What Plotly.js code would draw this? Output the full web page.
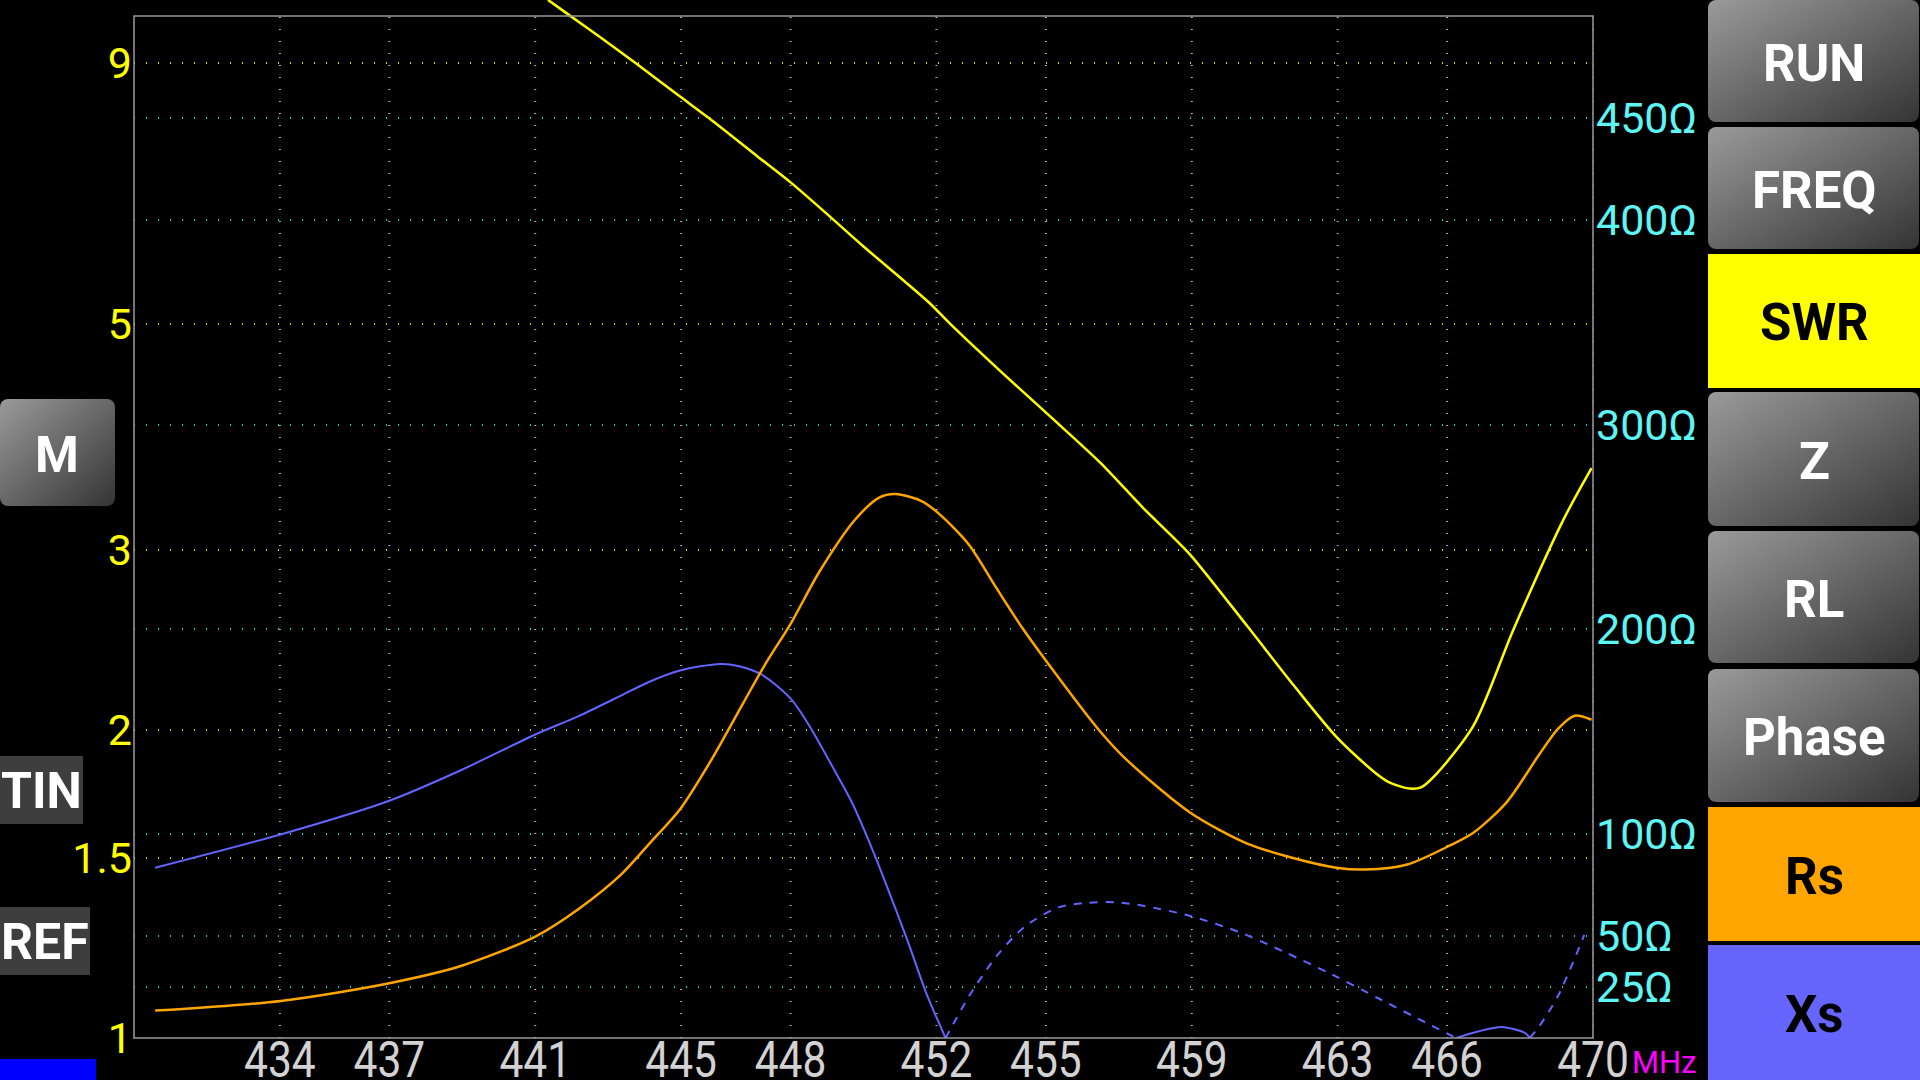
<!DOCTYPE html>
<html><head><meta charset="utf-8">
<script src="https://cdn.plot.ly/plotly-3.0.1.min.js"></script>
<style>html,body{margin:0;padding:0;background:#000;overflow:hidden}#chart{width:1920px;height:1080px}</style>
</head><body><div id="chart"></div>
<script>
// ---------------- data ----------------
const xTicks = [434, 437, 441, 445, 448, 452, 455, 459, 463, 466, 470];
const xTickText = ['434', '437', '441', '445', '448', '452', '455', '459', '463', '466', '470'];
const swrTicks = [1, 1.5, 2, 3, 5, 9];
const swrTickText = ['1', '1.5', '2', '3', '5', '9'];
const ohmTicks = [25, 50, 100, 200, 300, 400, 450];
const ohmTickText = ['25Ω', '50Ω', '100Ω', '200Ω', '300Ω', '400Ω', '450Ω'];

// SWR (yellow)
const freqSWR = [441.35, 442.0, 442.84, 443.74, 444.97, 445.75, 447.11, 448.01, 449.11, 450.0, 451.78, 452.37, 453.79, 455.14, 456.51, 457.67, 458.45, 458.96, 460.52, 461.81, 462.97, 464.01, 464.40, 464.98, 465.30, 465.69, 466.72, 467.82, 469.18, 469.96];
const swr = [10.37, 9.98, 9.50, 9.0, 8.34, 7.95, 7.28, 6.87, 6.35, 5.95, 5.25, 5.0, 4.48, 4.05, 3.65, 3.30, 3.10, 2.97, 2.53, 2.21, 1.97, 1.82, 1.78, 1.754, 1.76, 1.81, 2.02, 2.51, 3.21, 3.61];

// Rs (orange), ohms
const freqRs = [430.58, 434.02, 437.0, 438.96, 441.0, 442.19, 443.35, 444.13, 444.97, 445.81, 446.71, 447.30, 448.01, 448.79, 449.76, 450.43, 450.88, 451.59, 452.05, 452.88, 453.66, 454.37, 455.08, 456.38, 457.15, 458.96, 460.52, 461.55, 462.97, 463.75, 464.91, 466.08, 466.72, 467.63, 468.53, 469.05, 469.50, 469.96];
const rs = [13.4, 18.1, 26.8, 35.2, 49.6, 63.1, 79.9, 95.1, 111.9, 135.5, 164.1, 182.7, 202.9, 228.1, 253.4, 264.4, 266.1, 262.7, 256.8, 241.6, 219.7, 200.2, 182.7, 152.3, 137.2, 110.2, 95.1, 89.2, 83.3, 82.4, 84.9, 94.2, 100.4, 115.3, 138.8, 151.5, 157.7, 155.7];

// Xs (blue), ohms, signed (negative drawn dashed)
const freqXs = [430.58, 434.02, 437.0, 438.96, 441.0, 442.19, 443.35, 444.13, 444.97, 446.07, 446.59, 447.23, 448.01, 448.53, 449.17, 449.69, 450.18, 450.56, 451.20, 451.72, 452.25, 452.43, 452.88, 453.66, 454.43, 455.34, 456.12, 456.89, 457.67, 458.96, 460.26, 461.55, 462.84, 464.14, 465.43, 466.25, 466.85, 467.50, 468.14, 468.27, 468.53, 469.05, 469.76];
const xs = [83.3, 99.6, 116.1, 131.0, 148.5, 157.5, 167.5, 174.3, 179.8, 183.0, 181.9, 177.6, 165.9, 152.3, 132.1, 115.0, 95.0, 78.0, 48.0, 22.0, 0, -5.8, -20.1, -40.3, -54.6, -63.9, -66.1, -66.4, -64.7, -59.7, -52.1, -42.0, -31.1, -19.2, -7.4, 0, 3.2, 5.4, 2.4, 0, -5.8, -20.9, -50.4];

const rightButtons = ['RUN', 'FREQ', 'SWR', 'Z', 'RL', 'Phase', 'Rs', 'Xs'];

// ---------------- layout geometry (pixels) ----------------
const W = 1920, H = 1080;
const L = 134, R = 1593, T = 0, B = 1038;   // plot area (frame top drawn at y=16)
const pw = R - L, ph = B - T;
const PX_PER_DEC = 1022;                    // SWR log axis
const PX_PER_OHM = 2.044;                   // impedance axis
const px = x => (x - L) / pw;
const py = y => (B - y) / ph;

const btnGeom = [
  {y0: 0,   y1: 122, style: 'gray'},
  {y0: 127, y1: 249, style: 'gray'},
  {y0: 254, y1: 388, style: '#ffff00'},
  {y0: 392, y1: 526, style: 'gray'},
  {y0: 531, y1: 663, style: 'gray'},
  {y0: 669, y1: 802, style: 'gray'},
  {y0: 807, y1: 941, style: '#ffa500'},
  {y0: 945, y1: 1080, style: '#6666ff'}
];

function gradSrc(w, h, r) {
  const svg = '<svg xmlns="http://www.w3.org/2000/svg" width="' + w + '" height="' + h + '" viewBox="0 0 ' + w + ' ' + h + '" preserveAspectRatio="none">' +
    '<defs><linearGradient id="g" x1="0" y1="0" x2="1" y2="1">' +
    '<stop offset="0" stop-color="#9a9a9a"/><stop offset="1" stop-color="#343434"/></linearGradient></defs>' +
    '<rect x="0" y="0" width="' + w + '" height="' + h + '" rx="' + r + '" ry="' + r + '" fill="url(#g)"/></svg>';
  return 'data:image/svg+xml;charset=utf-8,' + encodeURIComponent(svg);
}

const shapes = [], images = [], annotations = [];

// vertical dotted grid
xTicks.forEach(v => shapes.push({type: 'line', xref: 'x', yref: 'paper', x0: v, x1: v, y0: 0, y1: py(16),
  line: {color: '#b4b4b4', width: 2, dash: '1px,11px'}, layer: 'below'}));

// frame
shapes.push({type: 'rect', xref: 'paper', yref: 'paper', x0: 0, x1: 1, y0: 0, y1: py(16),
  line: {color: '#9a9a9a', width: 1.5}, fillcolor: 'rgba(0,0,0,0)', layer: 'above'});

// right buttons
const BX0 = 1708, BX1 = 1920;
rightButtons.forEach((lab, i) => {
  const g = btnGeom[i];
  if (g.style === 'gray') {
    images.push({source: gradSrc(BX1 - BX0 - 1, g.y1 - g.y0, 8), xref: 'paper', yref: 'paper',
      x: px(BX0), y: py(g.y0), sizex: (BX1 - 1 - BX0) / pw, sizey: (g.y1 - g.y0) / ph,
      xanchor: 'left', yanchor: 'top', sizing: 'stretch', layer: 'above'});
  } else {
    shapes.push({type: 'rect', xref: 'paper', yref: 'paper', x0: px(BX0), x1: px(BX1), y0: py(g.y1), y1: py(g.y0),
      line: {width: 0}, fillcolor: g.style, layer: 'above'});
  }
  annotations.push({xref: 'paper', yref: 'paper', x: px((BX0 + BX1) / 2), y: py((g.y0 + g.y1) / 2 + 2),
    text: lab, showarrow: false, xanchor: 'center', yanchor: 'middle',
    font: {family: 'Roboto', size: 51, weight: 700, color: g.style === 'gray' ? '#ffffff' : '#000000'}});
});

// left widgets
images.push({source: gradSrc(115, 107, 8), xref: 'paper', yref: 'paper', x: px(0), y: py(399),
  sizex: 115 / pw, sizey: 107 / ph, xanchor: 'left', yanchor: 'top', sizing: 'stretch', layer: 'above'});
annotations.push({xref: 'paper', yref: 'paper', x: px(57), y: py(455), text: 'M', showarrow: false,
  xanchor: 'center', yanchor: 'middle', font: {family: 'Roboto', size: 50, weight: 700, color: '#ffffff'}});
shapes.push({type: 'rect', xref: 'paper', yref: 'paper', x0: px(0), x1: px(83), y0: py(824), y1: py(756),
  line: {width: 0}, fillcolor: '#3e3e3e', layer: 'above'});
annotations.push({xref: 'paper', yref: 'paper', x: px(-1), y: py(791), text: 'TIN', showarrow: false,
  xanchor: 'left', yanchor: 'middle', font: {family: 'Roboto', size: 50, weight: 700, color: '#ffffff'}});
shapes.push({type: 'rect', xref: 'paper', yref: 'paper', x0: px(0), x1: px(90), y0: py(975), y1: py(907),
  line: {width: 0}, fillcolor: '#3e3e3e', layer: 'above'});
annotations.push({xref: 'paper', yref: 'paper', x: px(-1), y: py(942), text: 'REF', showarrow: false,
  xanchor: 'left', yanchor: 'middle', font: {family: 'Roboto', size: 50, weight: 700, color: '#ffffff'}});
shapes.push({type: 'rect', xref: 'paper', yref: 'paper', x0: px(0), x1: px(96), y0: py(1080), y1: py(1059),
  line: {width: 0}, fillcolor: '#0000ff', layer: 'above'});

// MHz unit
annotations.push({xref: 'paper', yref: 'paper', x: px(1630), y: py(1062), text: 'MHz', showarrow: false,
  xanchor: 'left', yanchor: 'middle', font: {family: 'Roboto', size: 31, color: '#ff00ff'}});

// ---------------- traces ----------------
const posY = xs.map(v => v >= 0 ? v : null);
const negY = xs.map(v => v <= 0 ? -v : null);

const traces = [
  {x: freqXs, y: posY, yaxis: 'y2', mode: 'lines', line: {color: '#6464ff', width: 2, shape: 'spline', smoothing: 0.8}, connectgaps: false, hoverinfo: 'skip'},
  {x: freqXs, y: negY, yaxis: 'y2', mode: 'lines', line: {color: '#6464ff', width: 2, dash: '8px,8px', shape: 'spline', smoothing: 0.8}, connectgaps: false, hoverinfo: 'skip'},
  {x: freqRs, y: rs, yaxis: 'y2', mode: 'lines', line: {color: '#ffa500', width: 2.5, shape: 'spline', smoothing: 0.8}, hoverinfo: 'skip'},
  {x: freqSWR, y: swr, yaxis: 'y', mode: 'lines', line: {color: '#ffff00', width: 2.5, shape: 'spline', smoothing: 0.8}, hoverinfo: 'skip'}
];

const layout = {
  width: W, height: H,
  margin: {l: L, r: W - R, t: T, b: H - B, pad: 0},
  paper_bgcolor: '#000000', plot_bgcolor: 'rgba(0,0,0,0)',
  showlegend: false,
  xaxis: {range: [430, 470], tickmode: 'array', tickvals: xTicks, ticktext: xTickText,
    showgrid: false, zeroline: false, showline: false, ticks: '', ticklabelstandoff: -12,
    tickfont: {family: 'Roboto', size: 50, color: '#d2d2d2'}, fixedrange: true},
  yaxis: {type: 'log', range: [0, B / PX_PER_DEC], tickmode: 'array', tickvals: swrTicks, ticktext: swrTickText,
    showgrid: true, gridcolor: '#dcdc00', gridwidth: 2, griddash: '1px,11px',
    zeroline: false, showline: false, ticks: '', ticklabelstandoff: 1,
    tickfont: {family: 'Roboto', size: 43, color: '#ffff00'}, fixedrange: true},
  yaxis2: {overlaying: 'y', side: 'right', range: [0, B / PX_PER_OHM], tickmode: 'array', tickvals: ohmTicks, ticktext: ohmTickText,
    showgrid: true, gridcolor: '#00d2d2', gridwidth: 2, griddash: '1px,11px',
    zeroline: false, showline: false, ticks: '', ticklabelstandoff: 2,
    tickfont: {family: 'Roboto', size: 43, color: '#5ef5f5'}, fixedrange: true},
  shapes: shapes, images: images, annotations: annotations
};

Plotly.newPlot('chart', traces, layout, {staticPlot: true, displayModeBar: false}).then(gd => {
  // condense the frequency labels horizontally (the reference uses a narrow face)
  gd.querySelectorAll('.xtick text').forEach(t => {
    const w = t.getComputedTextLength();
    t.setAttribute('textLength', (w * 0.85).toFixed(1));
    t.setAttribute('lengthAdjust', 'spacingAndGlyphs');
  });
});
</script>
</body></html>
